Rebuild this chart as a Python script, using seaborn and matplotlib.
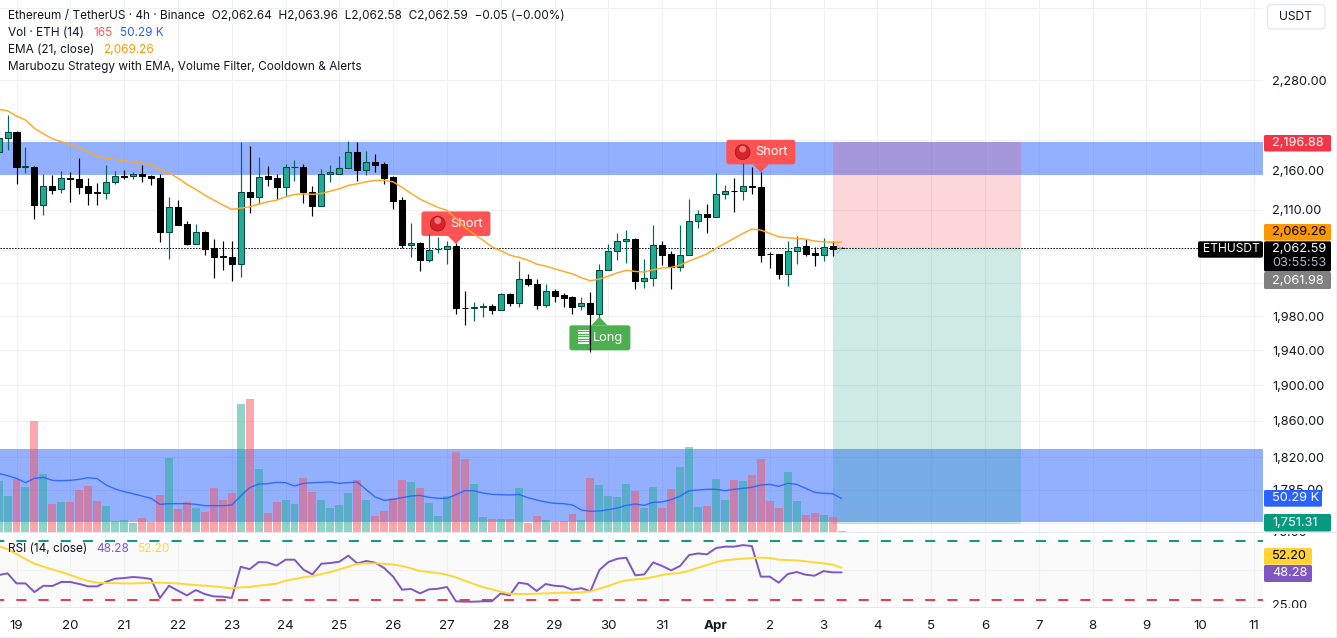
import numpy as np
import pandas as pd
import matplotlib
matplotlib.use("Agg")
import matplotlib.pyplot as plt
import seaborn as sns
from matplotlib.patches import FancyBboxPatch, Polygon, Circle, Rectangle
from matplotlib.lines import Line2D
from matplotlib.transforms import Affine2D, Bbox

W, H = 1337, 638

# 4h bars, bar 0 is the first bar of the 19th
bars = list(range(-2, 93))
opens = [2184, 2202, 2211, 2165, 2165, 2116, 2140, 2136, 2150, 2148.6, 2140, 2132, 2131.5, 2145, 2153.6, 2153.6, 2156, 2153.6, 2151, 2082.4,
         2113, 2091.6, 2067.5, 2081.6, 2062, 2052, 2051, 2043, 2133, 2126.4, 2152.5, 2150, 2139, 2164, 2164, 2133, 2115, 2155, 2156, 2162.8,
         2184.4, 2161, 2170.5, 2168, 2151.5, 2121.8, 2066, 2069, 2048, 2060.6, 2060.6, 2064.3, 1990.3, 1990, 1991.5, 1991.7, 1987.6, 2006.4, 1996, 2025,
         2019, 1993.5, 2009.5, 2004.8, 2002.4, 1991.7, 1995.2, 1982.8, 2035, 2058.2, 2070.5, 2073, 2022.4, 2025.3, 2065.6, 2054.5, 2039.3, 2053.3, 2095.4, 2104.6,
         2101.2, 2129.5, 2133.6, 2133.4, 2139.9, 2138.7, 2054.9, 2054.9, 2030.8, 2058.2, 2064.3, 2055.7, 2053.3, 2064.3, 2062.64]
highs = [2213, 2233, 2212, 2191, 2165.5, 2155.4, 2154, 2159, 2158, 2176, 2151, 2144, 2167, 2159, 2160.6, 2158, 2167, 2154, 2155, 2126,
         2122, 2096, 2092, 2083, 2073, 2071, 2071, 2196.7, 2192, 2177.5, 2165.7, 2155, 2169, 2173.5, 2169, 2140, 2161.5, 2167, 2178.7, 2198.4,
         2196.7, 2185, 2182, 2170.5, 2153, 2126, 2093, 2069.6, 2079.5, 2075.8, 2071, 2068, 2010, 1996.4, 1995.6, 1994.8, 2007.2, 2007.2, 2046, 2031,
         2025, 2018, 2012.3, 2007.2, 2004, 2002.8, 2008.4, 2042.3, 2066.8, 2080.4, 2084.5, 2074.2, 2048.7, 2090.7, 2070.9, 2058.6, 2090.7, 2123, 2109.6, 2117,
         2156.3, 2141.3, 2150.3, 2169.6, 2165, 2158.4, 2057, 2054.9, 2070.9, 2076.7, 2073.3, 2063.8, 2074.2, 2071, 2063.96]
lows = [2176, 2187, 2143, 2157, 2099, 2103, 2130, 2131.5, 2120, 2130, 2116, 2116, 2124, 2143, 2149, 2149, 2145, 2141, 2070, 2049,
        2091, 2066, 2067.5, 2053.6, 2026, 2035, 2022, 2027, 2106, 2117.6, 2140, 2123.5, 2127, 2147, 2118.8, 2102, 2115, 2145.5, 2156, 2162.8,
        2147, 2154, 2158, 2143, 2111, 2062.6, 2051.6, 2034, 2045, 2056.5, 2042.6, 1983, 1969.5, 1974, 1979, 1983, 1987, 1992, 1991, 2016,
        1988.5, 1991, 1996.8, 1991, 1982.4, 1987.3, 1938.4, 1979.3, 2035, 2047.5, 2044, 2012.7, 2013.9, 2016.3, 2041.4, 2012.7, 2034.5, 2053.3, 2087, 2081,
        2101.2, 2123.5, 2107.4, 2122.6, 2129.8, 2045.4, 2038, 2024.8, 2016.3, 2042.6, 2052.4, 2040, 2046.7, 2052.8, 2062.58]
closes = [2202.3, 2211, 2165, 2165.5, 2116, 2139.6, 2135, 2150, 2149.5, 2139, 2131.5, 2131.5, 2144.8, 2152.5, 2152, 2156, 2152.7, 2150.6, 2082.4, 2113,
          2091, 2067.5, 2081.6, 2061.4, 2051.6, 2051.5, 2043, 2133, 2126.4, 2152, 2149.4, 2139, 2164, 2164.5, 2132.8, 2115, 2155, 2157.6, 2162.8, 2184.4,
          2161, 2170.5, 2167.4, 2150.6, 2121.3, 2066, 2069, 2047.5, 2059.4, 2060.9, 2064.3, 1990, 1990, 1990.5, 1991.8, 1987.6, 2006, 1996, 2025, 2018.7,
          1993.5, 2009.5, 2004.3, 2002, 1991, 1995.2, 1982.8, 2035, 2058.2, 2070.5, 2073, 2022.4, 2025.3, 2065.6, 2054, 2039.3, 2053.3, 2095.4, 2104.6, 2101.2,
          2129.5, 2133.4, 2133.2, 2139.7, 2139.5, 2054, 2054.6, 2030.8, 2058.2, 2063.8, 2054.9, 2053.3, 2063.8, 2061, 2062.59]
ema21 = [2240.4, 2238.6, 2231.5, 2226.2, 2215.2, 2208, 2201.4, 2197.5, 2194.1, 2189.2, 2184, 2178.7, 2176.1, 2174.4, 2172.6, 2171.3, 2169.6, 2167.9, 2160.6, 2157.1,
         2150.3, 2142.2, 2135.8, 2128.5, 2122.2, 2115.9, 2110.5, 2112.1, 2113.7, 2117.1, 2120, 2122.2, 2126.4, 2129.5, 2130.2, 2129.5, 2130.7, 2133.6, 2136.6, 2140.9,
         2143, 2145.5, 2147.3, 2147.3, 2145.5, 2138.4, 2130.7, 2123.5, 2118, 2113, 2109.2, 2099.1, 2087.9, 2079.6, 2072.1, 2063.9, 2059, 2053.5, 2051, 2047.5,
         2042.6, 2040.2, 2036.9, 2033.7, 2030.8, 2026, 2022.4, 2024.4, 2028, 2032, 2035, 2033.7, 2032.9, 2035.7, 2037.8, 2038.6, 2041.4, 2046.3, 2050.8, 2055,
         2062, 2068, 2074.2, 2080.4, 2085.8, 2084.5, 2080.4, 2076.2, 2075, 2074.2, 2073.3, 2070.9, 2070, 2069.6, 2069.26]

# volume in thousands of ETH
volume = [76.5, 54, 79.5, 67.5, 166.5, 87, 42, 45, 45, 63, 69, 46.5, 39, 17, 18, 13.5, 21, 15, 55.5, 111,
          34.5, 45, 36, 30, 66, 48, 58.5, 192, 199.5, 94.5, 28.5, 45, 48, 42, 81, 60, 48, 36, 40.5, 58.5,
          78, 48, 24, 31.5, 51, 78, 75, 66, 43.5, 24, 54, 120, 109.5, 72, 22.5, 19.5, 19.5, 19.5, 66, 13.5,
          24, 18, 15, 16.5, 27, 18, 81, 70.5, 54, 52.5, 72, 61.5, 36, 67.5, 36, 64.5, 97.5, 127.5, 37.5, 39,
          79.5, 48, 78, 76.5, 85.5, 109.5, 46.5, 36, 90, 46.5, 25.5, 28.5, 25.5, 22.5, 1.5]
vol_side = list("uu" "dudududddd" "uuuudddudd" "uddddududd" "uudduuuudu" "dddduduuud"
                "duudududdu" "ddduduuuud" "uudduuuduu" "dudddduudd" "udd")
vol_ma = [88, 84.5, 80.5, 74, 80.5, 82, 77.5, 77, 77.5, 79, 81.5, 80, 70.5, 64.5, 60.5, 57.5, 54, 50.5, 41.5, 42.5,
          42.5, 42.5, 41.5, 39.5, 39.5, 39.5, 40.5, 54, 66.5, 72, 72.5, 74.5, 74, 69, 73, 74, 74.5, 75, 73, 74,
          75, 63.5, 52.5, 47.5, 49, 51.5, 54, 55, 52, 50.5, 50.5, 56, 62, 62, 58.5, 56.5, 56, 55.5, 56.5, 51.5,
          48, 45, 43, 42.5, 40.5, 33, 31, 31.5, 33.5, 36, 40, 42, 40, 44.5, 45, 48.5, 54, 62, 63, 64,
          64, 62, 64, 65.5, 67, 70.5, 71.5, 68.5, 73, 71.5, 65.5, 59.5, 58, 57.5, 50.29]

rsi = [46, 47.5, 39, 39, 31.7, 37, 36.8, 40.2, 40.2, 38.5, 36.5, 36.5, 40.4, 43, 43.5, 44.4, 43.8, 42.7, 26.7, 37,
       32.9, 28.9, 33.4, 30, 28, 27.8, 26.7, 53, 51, 57, 56.7, 54, 59, 59, 50.6, 46.6, 55.6, 56.2, 57.3, 62.4,
       55.9, 57.9, 56.5, 52, 44.7, 33.7, 34.3, 30.6, 34, 34.5, 36, 23.9, 23.6, 23.6, 23.9, 23.9, 30.6, 28.9, 39.6, 38.5,
       32.6, 38.5, 37, 36.5, 33.7, 35, 32.3, 50.3, 57, 59.8, 60.7, 45.8, 46.6, 56.7, 53.7, 50, 53.7, 62.9, 64.3, 63.5,
       68.8, 70, 70, 71.3, 70.5, 44.7, 44.7, 39.6, 46.9, 48.6, 46.3, 45.5, 49.4, 48.3, 48.28]
rsi_ma = [70.5, 68, 63.8, 59.6, 55.6, 53.1, 50.8, 48.6, 46.1, 43.3, 41, 39.6, 39.3, 39.3, 39, 39, 39.3, 39.6, 39.6, 39.3,
          39, 38.2, 37.6, 37.1, 36.5, 35.7, 34.8, 35.7, 36, 37.1, 37.9, 38.8, 41.3, 42.7, 44.1, 45.2, 46.9, 48.6, 50.8, 53.1,
          55.3, 55.9, 55.9, 55.6, 54.8, 53.7, 51.7, 49.4, 48.6, 47.8, 46.3, 44.1, 41.3, 38.5, 36, 34, 32, 30.3, 30.1, 30.1,
          30.3, 30.6, 30.9, 31.2, 31.2, 31.5, 32.3, 34.6, 36.8, 39.6, 41.6, 42.4, 43, 44.4, 46.1, 47.2, 47.8, 49.7, 52.2, 54.5,
          57, 58.4, 59.3, 59.8, 60.4, 60.7, 60.4, 59, 58.7, 58.4, 57.6, 56.7, 55.9, 54.8, 52.2]

zone_top = [2154, 2196.88]
zone_bottom = [1751.31, 1828.7]
entry_price = 2062.59
stop_price = 2196.88
target_price = 1751.31
position_bars = [91, 112]

day_labels = ["19", "20", "21", "22", "23", "24", "25", "26", "27", "28", "29", "30", "31", "Apr",
              "2", "3", "4", "5", "6", "7", "8", "9", "10", "11"]
price_ticks = [2380, 2280, 2200, 2160, 2110, 2060, 2020, 1980, 1940, 1900, 1860, 1820, 1785, 1750]
price_labels = ["", "2,280.00", "", "2,160.00", "2,110.00", "", "", "1,980.00", "1,940.00", "1,900.00",
                "1,860.00", "1,820.00", "1,785.00", ""]

GRID = "#f0f1f3"
TXT = "#131722"
UP = "#22ab94"
UP_EDGE = "#06453b"
UP_WICK = "#00695c"
BLUE = "#2962ff"
ORANGE = "#ff9800"
XLIM = (-1.84, 139.0)

sns.set_theme(style="white")
plt.rcParams["font.family"] = ["Inter", "DejaVu Sans"]
plt.rcParams["axes.unicode_minus"] = False

fig = plt.figure(figsize=(W / 100, H / 100), dpi=100, facecolor="white")
pix = Affine2D().scale(1, -1).translate(0, H)  # picture pixels, y down


def pane(top, bottom, right=1263):
    return fig.add_axes([0, 1 - bottom / H, right / W, (bottom - top) / H])


ax = pane(0, 533)
ax_vol = pane(0, 533)
ax_rsi = pane(533.5, 607)

# price pane
ax.set_yscale("log")
ax.set_xlim(*XLIM)
ax.set_ylim(1739.5, 2391.7)
ax.set_xticks(range(0, 140, 6))
ax.tick_params(axis="x", length=0, labelbottom=False)
ax.yaxis.tick_right()
ax.set_yticks(price_ticks, price_labels)
ax.minorticks_off()
ax.tick_params(axis="y", length=0, pad=6.5, labelsize=9.2, labelcolor=TXT)
ax.grid(True, color=GRID, lw=0.75, zorder=0)
ax.set_axisbelow(True)
sns.despine(ax=ax, left=True, bottom=True, top=True, right=True)

ax.axhspan(zone_top[0], zone_top[1], color=BLUE, alpha=0.5, lw=0, zorder=1)
ax.axhspan(zone_bottom[0], zone_bottom[1], color=BLUE, alpha=0.5, lw=0, zorder=1)
ax.fill_between(position_bars, entry_price, stop_price, color="#f23645", alpha=0.2, lw=0, zorder=1.2)
ax.fill_between(position_bars, target_price - 2, entry_price, color="#089981", alpha=0.2, lw=0, zorder=1.2)
ax.hlines(entry_price, XLIM[0], 131.8, color="black", lw=0.75, linestyle=(0, (1.4, 1.4)), zorder=1.5)


def to_px(i, price):
    x, y = ax.transData.transform((i, price))
    return x, H - y


def signal(i, price, text, color, short):
    tx, ty = to_px(i, price)
    if short:
        x0, x1, y0, y1 = tx - 34.5, tx + 34.5, ty - 32, ty - 7.5
        tri = [(tx - 8, y1), (tx + 8, y1), (tx, ty + 0.5)]
    else:
        x0, x1, y0, y1 = tx - 30, tx + 31, ty + 8.5, ty + 33.5
        tri = [(tx - 8, y0), (tx + 8, y0), (tx, ty)]
    ax.add_patch(FancyBboxPatch((x0, y0), x1 - x0, y1 - y0, boxstyle="round,pad=0,rounding_size=2.5", fc=color, ec="none",
                                transform=pix, clip_on=False, zorder=2))
    ax.add_patch(Polygon(tri, fc=color, ec="none", transform=pix, clip_on=False, zorder=2))
    cy = (y0 + y1) / 2
    if short:
        ax.add_patch(Circle((x0 + 16.3, cy), 7.4, fc="#d6242a", ec="#a81b1e", lw=0.6, transform=pix, clip_on=False, zorder=2.1))
        ax.add_patch(Circle((x0 + 16.3, cy - 3), 3.4, fc="#f27a78", ec="none", transform=pix, clip_on=False, zorder=2.2))
        ax.text(x0 + 28.5, cy, text, color="#ffffff", fontsize=9.2, va="center", transform=pix, zorder=2.3)
    else:
        for k in range(6):
            ax.add_patch(Rectangle((x0 + 8.5, y0 + 4.5 + k * 2.5), 11.5, 1.6, fc="white", ec="none", alpha=0.9,
                                   transform=pix, clip_on=False, zorder=2.1))
        ax.text(x0 + 23.5, cy, text, color="#ffffff", fontsize=9.2, va="center", transform=pix, zorder=2.3)


signal(49, highs[51], "Short", "#ff5252", True)
signal(83, highs[85], "Short", "#ff5252", True)
signal(65, lows[67], "Long", "#4caf50", False)

# candles
for i, o, h, l, c in zip(bars, opens, highs, lows, closes):
    up = c >= o
    ax.vlines(i, l, h, color=UP_WICK if up else "black", lw=0.85, zorder=3)
    ax.bar(i, abs(c - o), bottom=min(o, c), width=0.67, color=UP if up else "black",
           edgecolor=UP_EDGE if up else "black", linewidth=0.75, zorder=3.1)
sns.lineplot(x=bars, y=ema21, ax=ax, color="#ffa726", lw=1.05, errorbar=None, zorder=4)
ax.set_xlabel("")
ax.set_ylabel("")
ax.yaxis.set_label_position("right")
ax.set_xlim(*XLIM)
ax.set_ylim(1739.5, 2391.7)

tipx, tipy = to_px(bars[-1], closes[-1])
ax.add_line(Line2D([tipx - 4.5, tipx - 0.5, tipx - 4.5], [tipy - 3.5, tipy + 1, tipy + 5.5], color="#b2b5be", lw=0.8,
                   transform=pix, clip_on=False, zorder=4.2))

# volume overlay, same pane
vol_df = pd.DataFrame({"bar": bars, "volume": volume, "side": vol_side})
sns.barplot(data=vol_df, x="bar", y="volume", hue="side", palette={"u": UP, "d": "#f7525f"}, native_scale=True, dodge=False,
            width=0.89, saturation=1, alpha=0.5, linewidth=0, errorbar=None, legend=False, ax=ax_vol)
sns.lineplot(x=bars, y=vol_ma, ax=ax_vol, color=BLUE, lw=1.0, alpha=0.9, errorbar=None)
ax_vol.set_xlim(*XLIM)
ax_vol.set_ylim(-1.5, 798)
ax_vol.axis("off")
ax_vol.patch.set_visible(False)

# rsi pane
ax_rsi.set_xlim(*XLIM)
ax_rsi.set_ylim(19.1, 81.1)
ax_rsi.axhspan(25, 75, color="#fafafa", lw=0, zorder=0)
ax_rsi.set_xticks(range(0, 144, 6)[:len(day_labels)], day_labels)
ax_rsi.set_yticks([50])
ax_rsi.grid(True, color=GRID, lw=0.75, zorder=0.5)
ax_rsi.set_axisbelow(True)
ax_rsi.tick_params(axis="x", length=0, pad=9.5, labelsize=9.6, labelcolor=TXT)
ax_rsi.tick_params(axis="y", length=0, labelleft=False)
for lab in ax_rsi.get_xticklabels():
    if lab.get_text() == "Apr":
        lab.set_fontweight("bold")
sns.despine(ax=ax_rsi, left=True, bottom=True, top=True, right=True)
ax_rsi.axhline(75, color="#089981", lw=1.4, linestyle=(3, (5.2, 6.2)), zorder=1)
ax_rsi.axhline(25, color="#f23645", lw=1.4, linestyle=(3, (5.2, 6.2)), zorder=1)
sns.lineplot(x=bars, y=rsi, ax=ax_rsi, color="#7e57c2", lw=1.4, errorbar=None, zorder=3)
sns.lineplot(x=bars, y=rsi_ma, ax=ax_rsi, color="#fdd835", lw=1.4, errorbar=None, zorder=4)
ax_rsi.set_xlim(*XLIM)
ax_rsi.set_ylim(19.1, 81.1)
ax_rsi.patch.set_visible(False)


# frame pieces and overlays, all in picture pixels
def rect(x0, y0, x1, y1, fc, z=5, ec="none", r=0.0, lw=0.0):
    style = "round,pad=0,rounding_size=%g" % r if r else "square,pad=0"
    fig.add_artist(FancyBboxPatch((x0, y0), x1 - x0, y1 - y0, boxstyle=style, fc=fc, ec=ec, lw=lw, transform=pix, zorder=z))


def label(x, y, s, color=TXT, size=9.2, z=6, **kw):
    return fig.text(x, y, s, color=color, fontsize=size, transform=pix, va="center", zorder=z, **kw)


rect(0, 532.2, W, 533.2, "#e6e8ee", z=1)
rect(0, 607, 1263, 608, "#e6e8ee", z=1)
rect(0, 636.5, W, H, "#f0f3fa", z=1)
rect(1335.5, 0, W, H, "#f0f3fa", z=1)

for s, yy in (("75.00", 533), ("25.00", 605.8)):
    t = label(1272, yy, s, z=2, size=9.2)
    t.set_clip_box(Bbox([[1264, H - 607.5], [1337, H - 534]]))
    t.set_clip_on(True)

# header legend
HEAD = 8.5
label(8, 16, "Ethereum / TetherUS · 4h · Binance  O2,062.64  H2,063.96  L2,062.58  C2,062.59  −0.05 (−0.00%)", size=HEAD)
label(8, 33, "Vol · ETH (14)", size=HEAD)
label(93, 33, "165", color="#f7525f", size=HEAD)
label(120.5, 33, "50.29 K", color=BLUE, size=HEAD)
label(8, 50, "EMA (21, close)", size=HEAD)
label(103, 50, "2,069.26", color=ORANGE, size=HEAD)
label(8, 67, "Marubozu Strategy with EMA, Volume Filter, Cooldown & Alerts", size=HEAD)
label(8, 549, "RSI (14, close)", size=HEAD)
label(96, 549, "48.28", color="#7e57c2", size=HEAD)
label(137, 549, "52.20", color="#fdd835", size=HEAD)

# usdt button
rect(1267.5, 4.5, 1325, 29, "white", ec="#e0e3eb", r=4, lw=0.8)
label(1296, 16.5, "USDT", size=8.7, ha="center")

# price tags
tags = [
    (135, 151.5, 1331, "#f23645", "2,196.88", "white"),
    (224, 240.7, 1331, ORANGE, "2,069.26", "black"),
    (272, 289, 1331, "#808080", "2,061.98", "white"),
    (490, 506.7, 1322, BLUE, "50.29 K", "white"),
    (514, 531.5, 1331, "#089981", "1,751.31", "white"),
    (548, 564.7, 1312, "#ffd335", "52.20", "black"),
    (565, 582, 1312, "#7e57c2", "48.28", "white"),
]
for y0, y1, x1, fc, s, tc in tags:
    rect(1264, y0, x1, y1, fc, r=1.5)
    label(1272, (y0 + y1) / 2, s, color=tc, size=9.2)
rect(1264, 241.3, 1331, 271.5, "black", r=1.5)
label(1272, 249, "2,062.59", color="white", size=9.2)
label(1272, 263, "03:55:53", color="#b2b5be", size=9.2)
rect(1198, 241.3, 1263, 257.7, "black", r=2)
label(1203, 249.5, "ETHUSDT", color="white", size=8.7)

fig.savefig("out.png", dpi=100)
